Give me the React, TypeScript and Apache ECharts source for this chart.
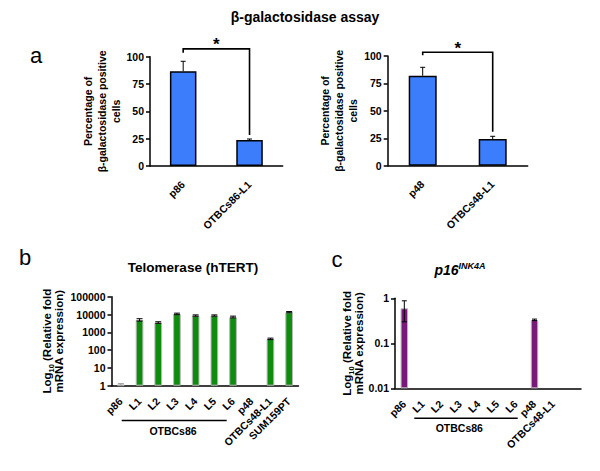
import React, { useEffect, useRef } from "react";
import * as echarts from "echarts";

// ---- Data ----
const galCatsA = ["p86", "OTBCs86-L1"];
const galValsA = [86.7, 23.8];
const galErrA = [9.1, 0.9];
const galCatsB = ["p48", "OTBCs48-L1"];
const galValsB = [82.0, 24.3];
const galErrB = [7.7, 2.5];
// significance brackets: [bracket level, left leg end, right leg end]
const sigA = [107.2, 103.6, 28.3];
const sigB = [103.4, 100.6, 31.0];

const tertCats = ["p86", "L1", "L2", "L3", "L4", "L5", "L6", "p48", "OTBCs48-L1", "SUM159PT"];
const tertVals = [1.15, 4900, 3500, 10600, 8600, 8600, 7000, null, 420, 13300];
const tertErrHi = [1.3, 5800, 3900, 11900, 9500, 9500, 8100, null, 470, 14600];
const tertErrLo = [1.0, 4300, 3200, 9800, 8000, 8000, 6400, null, 390, 12500];

const p16Cats = ["p86", "L1", "L2", "L3", "L4", "L5", "L6", "p48", "OTBCs48-L1", ""];
const p16Vals = [0.6, null, null, null, null, null, null, 0.33, null, null];
const p16ErrHi = [0.88, null, null, null, null, null, null, 0.345, null, null];
const p16ErrLo = [0.3, null, null, null, null, null, null, 0.32, null, null];

const FONT = "Liberation Sans, Arial, sans-serif";

function errData(vals: (number | null)[], hi: (number | null)[], lo: (number | null)[], lowCap: number) {
  const out: number[][] = [];
  vals.forEach((v, i) => {
    if (v == null || hi[i] == null || lo[i] == null) return;
    out.push([i, lo[i] as number, hi[i] as number, lowCap]);
  });
  return out;
}

function errorSeries(xi: number, data: number[][], capPx: number, colors?: string[]) {
  return {
    type: "custom",
    xAxisIndex: xi,
    yAxisIndex: xi,
    z: 5,
    silent: true,
    clip: false,
    encode: { x: 0, y: [1, 2] },
    data,
    renderItem: (params: any, api: any) => {
      const x = api.value(0);
      const lo = api.value(1);
      const hi = api.value(2);
      const lowCap = api.value(3);
      const pT = api.coord([x, hi]);
      const pB = api.coord([x, lo]);
      const col = colors ? colors[params.dataIndex] : "#000";
      const st = { stroke: col, lineWidth: 1 };
      const ch: any[] = [
        { type: "line", shape: { x1: pT[0], y1: pT[1], x2: pB[0], y2: pB[1] }, style: st },
        { type: "line", shape: { x1: pT[0] - capPx / 2, y1: pT[1], x2: pT[0] + capPx / 2, y2: pT[1] }, style: st },
      ];
      if (lowCap) {
        ch.push({ type: "line", shape: { x1: pB[0] - capPx / 2, y1: pB[1], x2: pB[0] + capPx / 2, y2: pB[1] }, style: st });
      }
      return { type: "group", children: ch };
    },
  };
}

function bracketSeries(xi: number, sig: number[]) {
  return {
    type: "custom",
    xAxisIndex: xi,
    yAxisIndex: xi,
    z: 6,
    silent: true,
    clip: false,
    encode: { x: [0, 1], y: [2, 3, 4] },
    data: [[0, 1, sig[0], sig[1], sig[2]]],
    renderItem: (params: any, api: any) => {
      const lvl = api.value(2);
      const pL0 = api.coord([0, api.value(3)]);
      const pL1 = api.coord([0, lvl]);
      const pR1 = api.coord([1, lvl]);
      const pR0 = api.coord([1, api.value(4)]);
      return {
        type: "group",
        children: [
          {
            type: "polyline",
            shape: { points: [pL0, pL1, pR1, pR0] },
            style: { stroke: "#000", lineWidth: 1.6, fill: null },
          },
          {
            type: "text",
            x: (pL1[0] + pR1[0]) / 2,
            y: pL1[1] - 4,
            style: {
              text: "*",
              fill: "#000",
              font: `bold 17px ${FONT}`,
              textAlign: "center",
              textVerticalAlign: "middle",
            },
          },
        ],
      };
    },
  };
}

const axisLine = { lineStyle: { color: "#000", width: 1.5 } };
const axisTick = { length: 4, lineStyle: { color: "#000", width: 1.5 } };
const labelStyle = { color: "#000", fontWeight: "bold", fontSize: 10.5, fontFamily: FONT };

function catAxis(gi: number, cats: string[], margin: number, tickInterval?: any) {
  return {
    type: "category",
    gridIndex: gi,
    data: cats,
    axisLine,
    axisTick: tickInterval ? { ...axisTick, interval: tickInterval } : axisTick,
    axisLabel: { ...labelStyle, rotate: 45, interval: 0, margin },
    splitLine: { show: false },
  };
}

export default function App() {
  const ref = useRef<HTMLDivElement>(null);
  useEffect(() => {
    if (!ref.current) return;
    const chart = echarts.init(ref.current, undefined, { renderer: "svg" });
    const yNameStyle = (fs: number, lh: number) => ({
      color: "#000",
      fontWeight: "bold",
      fontSize: fs,
      lineHeight: lh,
      fontFamily: FONT,
      rich: {
        sub: { fontSize: 7.5, fontWeight: "bold", fontFamily: FONT, color: "#000", verticalAlign: "bottom", lineHeight: lh, padding: [0, 0, -3, 0] },
      },
    });
    const option: any = {
      animation: false,
      backgroundColor: "#fff",
      grid: [
        { left: 150, top: 56.7, width: 132.7, height: 109.3 },
        { left: 387.7, top: 56, width: 140, height: 109.7 },
        { left: 111.5, top: 296.7, width: 187, height: 89 },
        { left: 395, top: 298.3, width: 186, height: 90 },
      ],
      xAxis: [
        catAxis(0, galCatsA, 17),
        catAxis(1, galCatsB, 17),
        catAxis(2, tertCats, 14),
        catAxis(3, p16Cats, 14, (idx: number) => idx <= 7),
      ],
      yAxis: [
        {
          type: "value", gridIndex: 0, min: 0, max: 100, interval: 25,
          axisLine: { ...axisLine, show: true }, axisTick: { ...axisTick, show: true },
          axisLabel: { ...labelStyle, margin: 6 }, splitLine: { show: false },
          name: "Percentage of\nβ-galactosidase positive\ncells", nameLocation: "middle", nameRotate: 90, nameGap: 16,
          nameTextStyle: yNameStyle(10.5, 14),
        },
        {
          type: "value", gridIndex: 1, min: 0, max: 100, interval: 25,
          axisLine: { ...axisLine, show: true }, axisTick: { ...axisTick, show: true },
          axisLabel: { ...labelStyle, margin: 6 }, splitLine: { show: false },
          name: "Percentage of\nβ-galactosidase positive\ncells", nameLocation: "middle", nameRotate: 90, nameGap: 19,
          nameTextStyle: yNameStyle(10.5, 14),
        },
        {
          type: "log", gridIndex: 2, min: 1, max: 100000, logBase: 10,
          axisLine: { ...axisLine, show: true }, axisTick: { ...axisTick, show: true },
          axisLabel: { ...labelStyle, margin: 6, formatter: (v: number) => String(Math.round(v)) },
          splitLine: { show: false },
          name: "Log{sub|10} (Relative fold\nmRNA expression)", nameLocation: "middle", nameRotate: 90, nameGap: 47,
          nameTextStyle: yNameStyle(11.5, 12),
        },
        {
          type: "log", gridIndex: 3, min: 0.01, max: 1, logBase: 10, startValue: 0.01,
          axisLine: { ...axisLine, show: true }, axisTick: { ...axisTick, show: true },
          axisLabel: { ...labelStyle, margin: 6, formatter: (v: number) => String(parseFloat(Number(v).toPrecision(2))) },
          splitLine: { show: false },
          name: "Log{sub|10} (Relative fold\nmRNA expression)", nameLocation: "middle", nameRotate: 90, nameGap: 29,
          nameTextStyle: yNameStyle(11.5, 12),
        },
      ],
      series: [
        {
          type: "bar", xAxisIndex: 0, yAxisIndex: 0, data: galValsA, barWidth: "40%",
          itemStyle: { color: "#3c7dfc", borderColor: "#000", borderWidth: 1.5 },
        },
        errorSeries(0, errData(galValsA, galValsA.map((v, i) => v + galErrA[i]), galValsA, 0), 5),
        bracketSeries(0, sigA),
        {
          type: "bar", xAxisIndex: 1, yAxisIndex: 1, data: galValsB, barWidth: "40%",
          itemStyle: { color: "#3c7dfc", borderColor: "#000", borderWidth: 1.5 },
        },
        errorSeries(1, errData(galValsB, galValsB.map((v, i) => v + galErrB[i]), galValsB, 0), 5),
        bracketSeries(1, sigB),
        {
          type: "bar", xAxisIndex: 2, yAxisIndex: 2, barWidth: "41%",
          data: tertVals.map((v, i) => (i === 0 ? { value: v, itemStyle: { color: "#d4d4d4" } } : v)),
          itemStyle: { color: "#0e8c0e", borderColor: "#b8b8b8", borderWidth: 1 },
        },
        errorSeries(2, errData(tertVals, tertErrHi, tertErrLo, 1), 6,
          ["#9a9a9a", "#000", "#000", "#000", "#000", "#000", "#000", "#000", "#000"]),
        {
          type: "bar", xAxisIndex: 3, yAxisIndex: 3, data: p16Vals, barWidth: "40%",
          itemStyle: { color: "#781a78", borderColor: "#b8b8b8", borderWidth: 1 },
        },
        errorSeries(3, errData(p16Vals, p16ErrHi, p16ErrLo, 1), 5),
      ],
      graphic: [
        { type: "text", x: 305, y: 17, style: { text: "β-galactosidase assay", font: `bold 14px ${FONT}`, fill: "#000", textAlign: "center", textVerticalAlign: "middle" } },
        { type: "text", x: 36, y: 55, style: { text: "a", font: `22px ${FONT}`, fill: "#000", textAlign: "center", textVerticalAlign: "middle" } },
        { type: "text", x: 25, y: 257, style: { text: "b", font: `22px ${FONT}`, fill: "#000", textAlign: "center", textVerticalAlign: "middle" } },
        { type: "text", x: 337, y: 259, style: { text: "c", font: `22px ${FONT}`, fill: "#000", textAlign: "center", textVerticalAlign: "middle" } },
        { type: "text", x: 193, y: 267, style: { text: "Telomerase (hTERT)", font: `bold 13.5px ${FONT}`, fill: "#000", textAlign: "center", textVerticalAlign: "middle" } },
        {
          type: "text", x: 460, y: 269,
          style: {
            text: "{a|p16}{b|INK4A}",
            textAlign: "center", textVerticalAlign: "middle",
            rich: {
              a: { fontSize: 14, fontStyle: "italic", fontWeight: "bold", fontFamily: FONT, fill: "#000", color: "#000", lineHeight: 16, verticalAlign: "bottom" },
              b: { fontSize: 9, fontStyle: "italic", fontWeight: "bold", fontFamily: FONT, fill: "#000", color: "#000", lineHeight: 16, verticalAlign: "top" },
            },
          },
        },
        { type: "line", shape: { x1: 121.7, y1: 420.5, x2: 226.7, y2: 420.5 }, style: { stroke: "#000", lineWidth: 1.5 } },
        { type: "text", x: 173, y: 430.5, style: { text: "OTBCs86", font: `bold 10.5px ${FONT}`, fill: "#000", textAlign: "center", textVerticalAlign: "middle" } },
        { type: "line", shape: { x1: 414.3, y1: 418.3, x2: 517.7, y2: 418.3 }, style: { stroke: "#000", lineWidth: 1.5 } },
        { type: "text", x: 459.3, y: 427.7, style: { text: "OTBCs86", font: `bold 10.5px ${FONT}`, fill: "#000", textAlign: "center", textVerticalAlign: "middle" } },
      ],
    };
    chart.setOption(option);
    return () => chart.dispose();
  }, []);
  return <div ref={ref} style={{ position: "fixed", left: 0, top: 0, width: 600, height: 471 }} />;
}
